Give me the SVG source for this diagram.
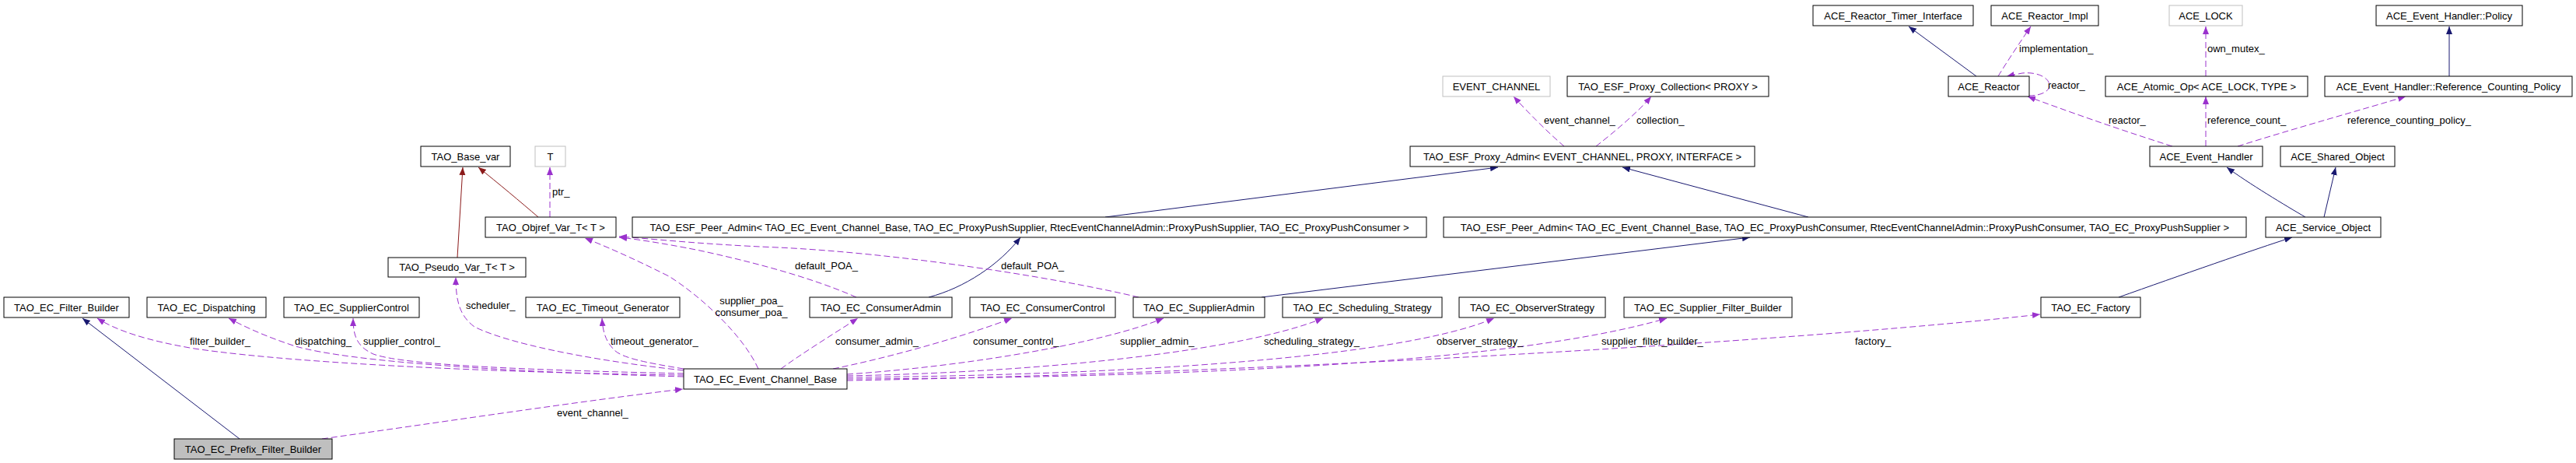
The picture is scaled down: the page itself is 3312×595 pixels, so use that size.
<svg xmlns="http://www.w3.org/2000/svg" width="3312" height="595" viewBox="0 0 3312 595">
<style>
.n rect{fill:#fff;stroke:#000;stroke-width:1}
.n.g rect{stroke:#bfbfbf}
.n.s rect{fill:#bfbfbf}
text{font-family:"Liberation Sans",Arial,sans-serif;font-size:13px;fill:#000}
.n text{text-anchor:middle}
.b{fill:none;stroke:#191970;stroke-width:1;marker-end:url(#ab)}
.r{fill:none;stroke:#8b1a1a;stroke-width:1;marker-end:url(#ar)}
.u{fill:none;stroke:#9a32cd;stroke-width:1;stroke-dasharray:8,4;marker-end:url(#au)}
</style>
<defs>
<marker id="ab" markerUnits="userSpaceOnUse" markerWidth="11" markerHeight="9" refX="10" refY="4" orient="auto"><path d="M0,0 L10,4 L0,8 z" fill="#191970"/></marker>
<marker id="ar" markerUnits="userSpaceOnUse" markerWidth="11" markerHeight="9" refX="10" refY="4" orient="auto"><path d="M0,0 L10,4 L0,8 z" fill="#8b1a1a"/></marker>
<marker id="au" markerUnits="userSpaceOnUse" markerWidth="11" markerHeight="9" refX="10" refY="4" orient="auto"><path d="M0,0 L10,4 L0,8 z" fill="#9a32cd"/></marker>
</defs>
<rect width="3312" height="595" fill="#fff"/>
<g id="edges">
<path class="b" d="M308,564 L106,409"/>
<path class="b" d="M1194,382 C1240,370 1285,340 1312,305"/>
<path class="b" d="M1622,382 L2250,305"/>
<path class="b" d="M1421,279 L1926,215"/>
<path class="b" d="M2325,279 L2086,215"/>
<path class="b" d="M2724,382 C2800,355 2900,320 2947,305"/>
<path class="b" d="M2964,279 C2940,265 2890,235 2863,215"/>
<path class="b" d="M2988,279 L3003,215"/>
<path class="b" d="M3149,98 L3149,34"/>
<path class="b" d="M2541,98 L2454,34"/>
<path class="r" d="M588,331 L595,215"/>
<path class="r" d="M692,279 C670,260 640,235 615,215"/>
<path class="u" d="M707,279 L707,215"/>
<path class="u" d="M414,564 C550,545 750,515 878,500"/>
<path class="u" d="M879,482 C700,480 400,470 250,448 C190,438 150,425 125,409"/>
<path class="u" d="M879,484 C650,478 450,465 380,445 C340,432 315,420 294,409"/>
<path class="u" d="M879,480 C700,476 520,470 480,455 C458,445 454,430 454,409"/>
<path class="u" d="M879,476 C750,462 650,440 610,420 C590,405 586,385 586,356"/>
<path class="u" d="M879,474 C830,466 800,460 790,450 C778,438 775,425 774,409"/>
<path class="u" d="M975,474 C955,430 900,380 860,355 C810,330 775,315 752,306"/>
<path class="u" d="M1101,382 C1040,355 960,335 900,322 C850,312 815,307 796,305"/>
<path class="u" d="M1464,382 C1350,355 1150,325 1000,318 C900,314 830,306 796,304"/>
<path class="u" d="M1004,474 C1030,455 1070,430 1103,409"/>
<path class="u" d="M1071,474 C1150,458 1240,432 1301,409"/>
<path class="u" d="M1089,481 C1250,470 1420,440 1496,409"/>
<path class="u" d="M1089,483 C1350,478 1600,450 1701,409"/>
<path class="u" d="M1089,485 C1450,482 1800,460 1921,409"/>
<path class="u" d="M1089,487 C1550,485 1950,465 2143,409"/>
<path class="u" d="M1089,489 C1600,480 2300,440 2623,404"/>
<path class="u" d="M2011,188 C1990,170 1965,145 1946,124"/>
<path class="u" d="M2052,188 C2075,170 2105,145 2123,124"/>
<path class="u" d="M2569,98 C2580,80 2600,50 2611,34"/>
<path class="u" d="M2608,123 C2625,123 2635,117 2635,110 C2635,100 2620,92 2600,94 L2580,98"/>
<path class="u" d="M2793,188 C2720,165 2650,140 2607,124"/>
<path class="u" d="M2836,98 L2836,34"/>
<path class="u" d="M2836,188 L2836,124"/>
<path class="u" d="M2877,188 C2950,165 3040,140 3093,124"/>
<text x="244" y="443">filter_builder_</text>
<text x="379" y="443">dispatching_</text>
<text x="467" y="443">supplier_control_</text>
<text x="599" y="397">scheduler_</text>
<text x="785" y="443">timeout_generator_</text>
<text x="966" y="391" text-anchor="middle">supplier_poa_</text>
<text x="966" y="406" text-anchor="middle">consumer_poa_</text>
<text x="710" y="251">ptr_</text>
<text x="1022" y="346">default_POA_</text>
<text x="1287" y="346">default_POA_</text>
<text x="1074" y="443">consumer_admin_</text>
<text x="1251" y="443">consumer_control_</text>
<text x="1440" y="443">supplier_admin_</text>
<text x="1625" y="443">scheduling_strategy_</text>
<text x="1847" y="443">observer_strategy_</text>
<text x="2059" y="443">supplier_filter_builder_</text>
<text x="2385" y="443">factory_</text>
<text x="716" y="535">event_channel_</text>
<text x="1985" y="159">event_channel_</text>
<text x="2104" y="159">collection_</text>
<text x="2596" y="67">implementation_</text>
<text x="2633" y="114">reactor_</text>
<text x="2711" y="159">reactor_</text>
<text x="2838" y="67">own_mutex_</text>
<text x="2838" y="159">reference_count_</text>
<text x="3018" y="159">reference_counting_policy_</text>
</g>
<g id="prefix" class="n s"><rect x="224" y="564" width="203" height="26"/><text x="325.5" y="581.5">TAO_EC_Prefix_Filter_Builder</text></g>
<g id="filter_builder" class="n"><rect x="5" y="382" width="161" height="26"/><text x="85.5" y="399.5">TAO_EC_Filter_Builder</text></g>
<g id="dispatching" class="n"><rect x="189" y="382" width="153" height="26"/><text x="265.5" y="399.5">TAO_EC_Dispatching</text></g>
<g id="supplier_control" class="n"><rect x="365" y="382" width="174" height="26"/><text x="452" y="399.5">TAO_EC_SupplierControl</text></g>
<g id="pseudo_var" class="n"><rect x="499" y="331" width="177" height="25"/><text x="587.5" y="348">TAO_Pseudo_Var_T&lt; T &gt;</text></g>
<g id="base_var" class="n"><rect x="541" y="188" width="115" height="26"/><text x="598.5" y="205.5">TAO_Base_var</text></g>
<g id="t" class="n g"><rect x="688" y="188" width="39" height="26"/><text x="707.5" y="205.5">T</text></g>
<g id="objref_var" class="n"><rect x="624" y="279" width="168" height="26"/><text x="708" y="296.5">TAO_Objref_Var_T&lt; T &gt;</text></g>
<g id="timeout_generator" class="n"><rect x="676" y="382" width="198" height="26"/><text x="775" y="399.5">TAO_EC_Timeout_Generator</text></g>
<g id="event_channel_base" class="n"><rect x="879" y="474" width="210" height="26"/><text x="984" y="491.5">TAO_EC_Event_Channel_Base</text></g>
<g id="consumer_admin" class="n"><rect x="1041" y="382" width="183" height="26"/><text x="1132.5" y="399.5">TAO_EC_ConsumerAdmin</text></g>
<g id="consumer_control" class="n"><rect x="1247" y="382" width="187" height="26"/><text x="1340.5" y="399.5">TAO_EC_ConsumerControl</text></g>
<g id="supplier_admin" class="n"><rect x="1457" y="382" width="169" height="26"/><text x="1541.5" y="399.5">TAO_EC_SupplierAdmin</text></g>
<g id="scheduling_strategy" class="n"><rect x="1649" y="382" width="205" height="26"/><text x="1751.5" y="399.5">TAO_EC_Scheduling_Strategy</text></g>
<g id="observer_strategy" class="n"><rect x="1876" y="382" width="188" height="26"/><text x="1970" y="399.5">TAO_EC_ObserverStrategy</text></g>
<g id="supplier_filter_builder" class="n"><rect x="2088" y="382" width="216" height="26"/><text x="2196" y="399.5">TAO_EC_Supplier_Filter_Builder</text></g>
<g id="factory" class="n"><rect x="2624" y="382" width="128" height="26"/><text x="2688" y="399.5">TAO_EC_Factory</text></g>
<g id="peer_admin_supplier" class="n"><rect x="813" y="279" width="1021" height="26"/><text x="1323.5" y="296.5">TAO_ESF_Peer_Admin&lt; TAO_EC_Event_Channel_Base, TAO_EC_ProxyPushSupplier, RtecEventChannelAdmin::ProxyPushSupplier, TAO_EC_ProxyPushConsumer &gt;</text></g>
<g id="peer_admin_consumer" class="n"><rect x="1856" y="279" width="1032" height="26"/><text x="2372" y="296.5">TAO_ESF_Peer_Admin&lt; TAO_EC_Event_Channel_Base, TAO_EC_ProxyPushConsumer, RtecEventChannelAdmin::ProxyPushConsumer, TAO_EC_ProxyPushSupplier &gt;</text></g>
<g id="proxy_admin" class="n"><rect x="1813" y="188" width="443" height="26"/><text x="2034.5" y="205.5">TAO_ESF_Proxy_Admin&lt; EVENT_CHANNEL, PROXY, INTERFACE &gt;</text></g>
<g id="event_channel" class="n g"><rect x="1855" y="98" width="138" height="26"/><text x="1924" y="115.5">EVENT_CHANNEL</text></g>
<g id="proxy_collection" class="n"><rect x="2015" y="98" width="259" height="26"/><text x="2144.5" y="115.5">TAO_ESF_Proxy_Collection&lt; PROXY &gt;</text></g>
<g id="reactor_timer_interface" class="n"><rect x="2331" y="7" width="206" height="26"/><text x="2434" y="24.5">ACE_Reactor_Timer_Interface</text></g>
<g id="reactor_impl" class="n"><rect x="2560" y="7" width="138" height="26"/><text x="2629" y="24.5">ACE_Reactor_Impl</text></g>
<g id="ace_lock" class="n g"><rect x="2789" y="7" width="94" height="26"/><text x="2836" y="24.5">ACE_LOCK</text></g>
<g id="policy" class="n"><rect x="3055" y="7" width="188" height="26"/><text x="3149" y="24.5">ACE_Event_Handler::Policy</text></g>
<g id="ace_reactor" class="n"><rect x="2505" y="98" width="104" height="26"/><text x="2557" y="115.5">ACE_Reactor</text></g>
<g id="atomic_op" class="n"><rect x="2707" y="98" width="260" height="26"/><text x="2837" y="115.5">ACE_Atomic_Op&lt; ACE_LOCK, TYPE &gt;</text></g>
<g id="ref_counting_policy" class="n"><rect x="2989" y="98" width="318" height="26"/><text x="3148" y="115.5">ACE_Event_Handler::Reference_Counting_Policy</text></g>
<g id="event_handler" class="n"><rect x="2764" y="188" width="145" height="26"/><text x="2836.5" y="205.5">ACE_Event_Handler</text></g>
<g id="shared_object" class="n"><rect x="2932" y="188" width="147" height="26"/><text x="3005.5" y="205.5">ACE_Shared_Object</text></g>
<g id="service_object" class="n"><rect x="2913" y="279" width="148" height="26"/><text x="2987" y="296.5">ACE_Service_Object</text></g>
</svg>
